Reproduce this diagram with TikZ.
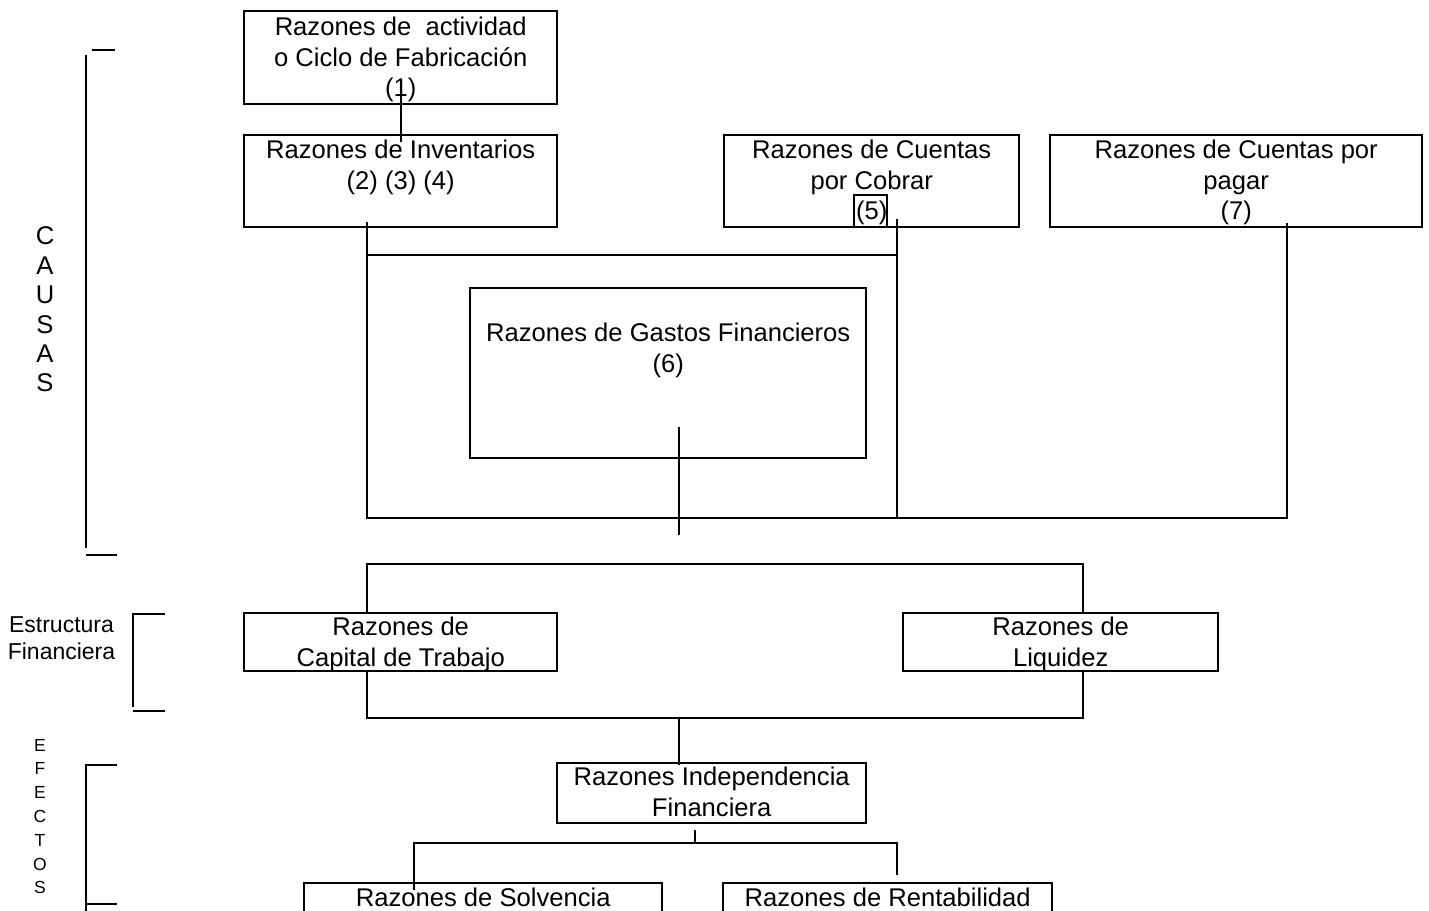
\documentclass[tikz,border=0pt]{standalone}
\usepackage{fontspec}
\setmainfont{Liberation Sans}
\usetikzlibrary{positioning}

\begin{document}
\begin{tikzpicture}[x=1pt,y=-1pt,
	caja/.style={draw, line width=2.4pt, inner sep=0pt, anchor=north west},
	texto/.style={inner sep=0pt, align=center, font=\fontsize{25.6}{30.5}\selectfont},
	linea/.style={line width=1.8pt},
	llave/.style={line width=2.2pt}]
	\useasboundingbox (0,0) rectangle (1429,910);
	% causas
	\node[caja, minimum width=313pt, minimum height=93pt] (act) at (243,10) {};
	\node[texto, below=7pt of act.north] (act-t) {Razones de\ \ actividad\\o Ciclo de Fabricación\\(1)};
	\node[caja, minimum width=313pt, minimum height=92pt] (inv) at (243,134) {};
	\node[texto, below=6pt of inv.north] (inv-t) {Razones de Inventarios\\(2) (3) (4)};
	\node[caja, minimum width=295pt, minimum height=92pt] (cxc) at (723,134) {};
	\node[texto, below=6pt of cxc.north] (cxc-t) {Razones de Cuentas\\por Cobrar\\(5)};
	\node[draw, line width=1.8pt, inner sep=0pt, minimum width=33pt, minimum height=32pt] (cinco) at (870.5,211) {};
	\node[caja, minimum width=372pt, minimum height=92pt] (cxp) at (1049,134) {};
	\node[texto, below=6pt of cxp.north] (cxp-t) {Razones de Cuentas por\\pagar\\(7)};
	\node[caja, minimum width=396pt, minimum height=170pt] (gas) at (469,287) {};
	\node[texto, below=36pt of gas.north] (gas-t) {Razones de Gastos Financieros\\(6)};
	% efectos
	\node[caja, minimum width=313pt, minimum height=58pt] (cap) at (243,612) {};
	\node[texto, below=5pt of cap.north] (cap-t) {Razones de\\Capital de Trabajo};
	\node[caja, minimum width=315pt, minimum height=58pt] (liq) at (902,612) {};
	\node[texto, below=5pt of liq.north] (liq-t) {Razones de\\Liquidez};
	\node[caja, minimum width=309pt, minimum height=60pt] (ind) at (556,762) {};
	\node[texto, below=5pt of ind.north] (ind-t) {Razones Independencia\\Financiera};
	\node[caja, minimum width=358pt, minimum height=60pt] (sol) at (303,882) {};
	\node[texto, below=6pt of sol.north] (sol-t) {Razones de Solvencia};
	\node[caja, minimum width=329pt, minimum height=60pt] (ren) at (722,882) {};
	\node[texto, below=6pt of ren.north] (ren-t) {Razones de Rentabilidad};
	% letreros de la izquierda
	\node[texto, font=\fontsize{25.6}{29.4}\selectfont] (causas) at (45,309.5) {C\\A\\U\\S\\A\\S};
	\node[texto, font=\fontsize{23}{27}\selectfont] (estr) at (61.5,638.5) {Estructura\\Financiera};
	\node[texto, font=\fontsize{17.5}{23.8}\selectfont] (efectos) at (40,816.5) {E\\F\\E\\C\\T\\O\\S};
	\draw[llave] (92,50) -- (115,50);
	\draw[llave] (86,55) -- (86,548);
	\draw[llave] (86,555) -- (117,555);
	\draw[llave] (165,614) -- (133,614) -- (133,707);
	\draw[llave] (133,711) -- (165,711);
	\draw[llave] (117,765) -- (86,765) -- (86,912);
	\draw[llave] (86,904) -- (117,904);
	% conectores
	\coordinate (c1) at (367,255);
	\coordinate (c2) at (897,255);
	\coordinate (d1) at (367,518);
	\coordinate (d2) at (897,518);
	\coordinate (d3) at (1287,518);
	\coordinate (g) at (679,535);
	\coordinate (f1) at (367,564);
	\coordinate (f2) at (1083,564);
	\coordinate (h1) at (367,718);
	\coordinate (h2) at (1083,718);
	\coordinate (k0) at (695,843);
	\coordinate (k1) at (414,843);
	\coordinate (k2) at (897,843);
	\draw[linea] ([yshift=10pt]act.south) -- ([yshift=-8pt]inv.north);
	\draw[linea] ([yshift=6pt]inv.south -| d1) -- (d1) -- (d3) -- ([yshift=5pt]cxp.south -| d3);
	\draw[linea] (c1) -- (c2);
	\draw[linea] ([yshift=9pt]cxc.south -| d2) -- (d2);
	\draw[linea] ([yshift=32pt]gas.south -| g) -- (g);
	\draw[linea] (cap.north -| f1) -- (f1) -- (f2) -- (liq.north -| f2);
	\draw[linea] (cap.south -| h1) -- (h1) -- (h2) -- (liq.south -| h2);
	\draw[linea] (h1 -| g) -- ([yshift=-3pt]ind.north -| g);
	\draw[linea] ([yshift=-6pt]ind.south -| k0) -- (k0);
	\draw[linea] ([yshift=-8pt]sol.north -| k1) -- (k1) -- (k2) -- ([yshift=7pt]ren.north -| k2);
\end{tikzpicture}
\end{document}
